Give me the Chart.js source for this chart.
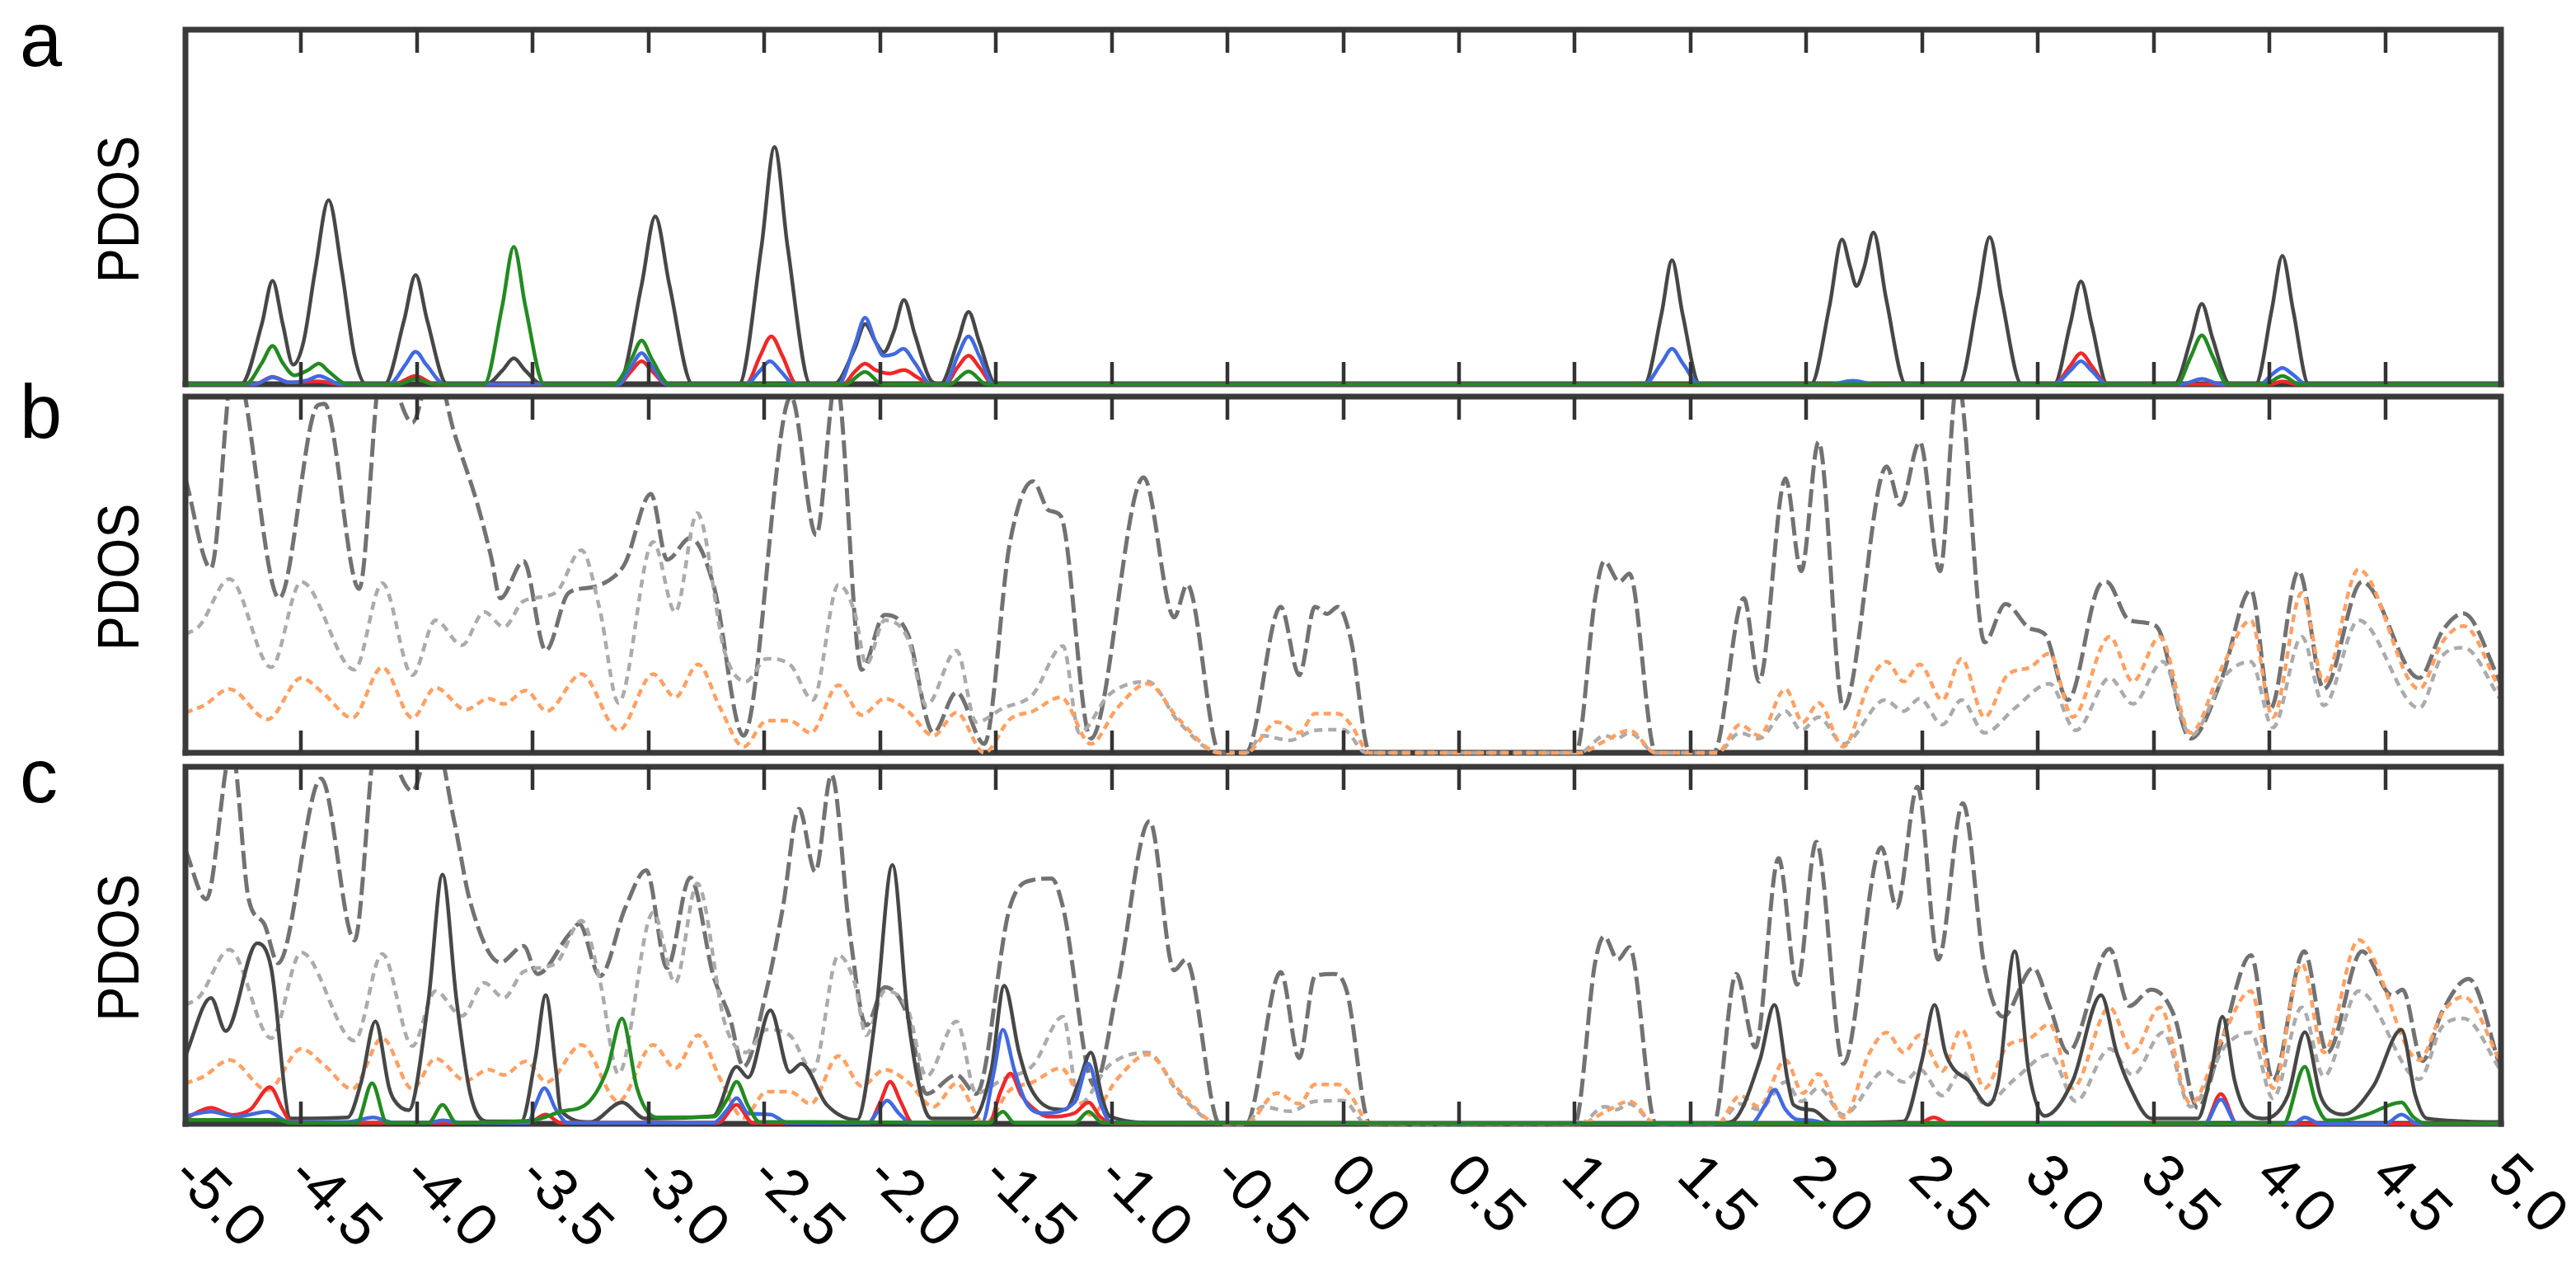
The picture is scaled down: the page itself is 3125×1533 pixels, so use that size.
<!DOCTYPE html>
<html><head><meta charset="utf-8">
<script src="https://cdn.jsdelivr.net/npm/chart.js@4.4.1/dist/chart.umd.min.js"></script>
<style>
html,body{margin:0;padding:0;background:#fff;}
body{width:3125px;height:1533px;position:relative;overflow:hidden;}
canvas{position:absolute;left:0;}
</style></head><body>
<canvas id="ca" width="3125" height="480" style="top:0px;width:3125px;height:480px"></canvas>
<canvas id="cb" width="3125" height="482" style="top:440px;width:3125px;height:482px"></canvas>
<canvas id="cc" width="3125" height="633" style="top:900px;width:3125px;height:633px"></canvas>
<script>
// ---------- tick values / labels ----------
const xTickValues = [-5.0,-4.5,-4.0,-3.5,-3.0,-2.5,-2.0,-1.5,-1.0,-0.5,0.0,0.5,1.0,1.5,2.0,2.5,3.0,3.5,4.0,4.5,5.0];
const xTickLabels = ['-5.0','-4.5','-4.0','-3.5','-3.0','-2.5','-2.0','-1.5','-1.0','-0.5','0.0','0.5','1.0','1.5','2.0','2.5','3.0','3.5','4.0','4.5','5.0'];
const panelLetters = ['a','b','c'];
const yTitle = 'PDOS';

// ---------- panel a : [energy, PDOS] ----------
const a_black = [[-5.0,0],[-4.76,0],[-4.67,0.17],[-4.624,0.292],[-4.58,0.17],[-4.535,0.055],[-4.49,0.12],[-4.44,0.32],[-4.382,0.519],[-4.325,0.32],[-4.27,0.08],[-4.22,0],[-4.14,0],[-4.056,0.18],[-4.006,0.308],[-3.956,0.18],[-3.87,0],[-3.70,0],[-3.63,0.04],[-3.582,0.073],[-3.534,0.04],[-3.46,0],[-3.13,0],[-3.03,0.28],[-2.971,0.473],[-2.91,0.28],[-2.81,0],[-2.61,0],[-2.512,0.39],[-2.456,0.669],[-2.40,0.39],[-2.30,0],[-2.20,0],[-2.11,0.1],[-2.065,0.17],[-2.02,0.12],[-1.985,0.09],[-1.94,0.15],[-1.897,0.238],[-1.85,0.14],[-1.78,0.01],[-1.74,0],[-1.665,0.12],[-1.618,0.204],[-1.572,0.12],[-1.50,0],[1.30,0],[1.375,0.2],[1.42,0.35],[1.465,0.2],[1.54,0],[2.02,0],[2.10,0.22],[2.154,0.408],[2.19,0.33],[2.216,0.277],[2.25,0.33],[2.29,0.428],[2.345,0.24],[2.43,0],[2.66,0],[2.74,0.24],[2.792,0.415],[2.844,0.24],[2.93,0],[3.07,0],[3.14,0.17],[3.186,0.29],[3.232,0.17],[3.30,0],[3.59,0],[3.662,0.13],[3.708,0.227],[3.754,0.13],[3.83,0],[3.94,0],[4.01,0.21],[4.056,0.362],[4.102,0.21],[4.17,0],[5.0,0]];
const a_green = [[-5.0,0],[-4.74,0],[-4.67,0.06],[-4.624,0.108],[-4.58,0.06],[-4.53,0.025],[-4.47,0.04],[-4.424,0.058],[-4.38,0.035],[-4.30,0],[-4.08,0],[-4.006,0.015],[-3.93,0],[-3.71,0],[-3.632,0.22],[-3.582,0.388],[-3.532,0.22],[-3.45,0],[-3.15,0],[-3.075,0.07],[-3.03,0.123],[-2.985,0.07],[-2.91,0],[-2.15,0],[-2.065,0.035],[-1.99,0],[-1.70,0],[-1.618,0.036],[-1.54,0],[3.60,0],[3.662,0.08],[3.708,0.138],[3.754,0.08],[3.82,0],[3.98,0],[4.056,0.023],[4.13,0],[5.0,0]];
const a_blue = [[-5.0,0],[-4.70,0],[-4.624,0.019],[-4.55,0.005],[-4.47,0.012],[-4.424,0.023],[-4.33,0],[-4.12,0],[-4.05,0.055],[-4.006,0.092],[-3.96,0.055],[-3.88,0],[-3.13,0],[-3.075,0.05],[-3.03,0.088],[-2.985,0.05],[-2.92,0],[-2.58,0],[-2.52,0.037],[-2.476,0.065],[-2.43,0.037],[-2.37,0],[-2.18,0],[-2.11,0.11],[-2.065,0.188],[-2.02,0.12],[-1.985,0.08],[-1.94,0.085],[-1.90,0.1],[-1.85,0.06],[-1.78,0],[-1.72,0],[-1.665,0.08],[-1.618,0.135],[-1.572,0.08],[-1.51,0],[1.30,0],[1.375,0.06],[1.42,0.1],[1.465,0.06],[1.54,0],[2.10,0],[2.20,0.01],[2.30,0],[3.07,0],[3.14,0.038],[3.186,0.065],[3.232,0.038],[3.30,0],[3.62,0],[3.708,0.015],[3.79,0],[3.96,0],[4.01,0.027],[4.056,0.046],[4.102,0.027],[4.16,0],[5.0,0]];
const a_red = [[-5.0,0],[-4.70,0],[-4.624,0.021],[-4.55,0.005],[-4.424,0.008],[-4.33,0],[-4.10,0],[-4.006,0.023],[-3.92,0],[-3.13,0],[-3.075,0.037],[-3.03,0.065],[-2.985,0.037],[-2.92,0],[-2.58,0],[-2.518,0.08],[-2.47,0.135],[-2.422,0.08],[-2.36,0],[-2.16,0],[-2.11,0.035],[-2.065,0.058],[-2.02,0.04],[-1.96,0.03],[-1.897,0.04],[-1.84,0.02],[-1.78,0],[-1.72,0],[-1.665,0.048],[-1.618,0.081],[-1.572,0.048],[-1.51,0],[3.07,0],[3.14,0.052],[3.186,0.088],[3.232,0.052],[3.30,0],[4.00,0],[4.056,0.008],[4.12,0],[5.0,0]];

// ---------- panel b ----------
const b_dashed = [[-5.0,0.77],[-4.89,0.518],[-4.79,1.1],[-4.595,0.434],[-4.43,0.975],[-4.40,0.98],[-4.25,0.46],[-4.15,1.1],[-4.02,0.927],[-3.93,1.1],[-3.84,0.9],[-3.74,0.70],[-3.68,0.55],[-3.64,0.434],[-3.54,0.538],[-3.444,0.287],[-3.345,0.449],[-3.25,0.464],[-3.148,0.495],[-3.10,0.534],[-2.99,0.727],[-2.92,0.542],[-2.82,0.603],[-2.72,0.472],[-2.59,0.048],[-2.385,1.0],[-2.276,0.611],[-2.19,1.05],[-2.08,0.233],[-1.98,0.387],[-1.88,0.333],[-1.77,0.056],[-1.67,0.17],[-1.55,0.025],[-1.44,0.588],[-1.34,0.762],[-1.27,0.68],[-1.22,0.665],[-1.09,0.04],[-0.862,0.773],[-0.73,0.38],[-0.674,0.472],[-0.533,0],[-0.42,0],[-0.27,0.41],[-0.19,0.218],[-0.122,0.41],[-0.07,0.39],[-0.023,0.41],[0.033,0.318],[0.115,0],[1.005,0],[1.088,0.434],[1.127,0.538],[1.193,0.48],[1.236,0.503],[1.35,0],[1.60,0],[1.73,0.434],[1.796,0.2],[1.91,0.77],[1.978,0.51],[2.053,0.873],[2.16,0.125],[2.347,0.804],[2.406,0.696],[2.49,0.873],[2.577,0.51],[2.653,1.05],[2.77,0.31],[2.86,0.418],[2.966,0.349],[3.03,0.333],[3.13,0.148],[3.26,0.464],[3.296,0.48],[3.395,0.372],[3.51,0.356],[3.66,0.04],[3.79,0.2],[3.92,0.457],[4.005,0.125],[4.126,0.51],[4.235,0.179],[4.40,0.48],[4.647,0.21],[4.746,0.341],[4.838,0.391],[5.0,0.194]];
const b_dotted = [[-5.0,0.333],[-4.94,0.356],[-4.81,0.488],[-4.63,0.24],[-4.50,0.48],[-4.27,0.233],[-4.15,0.476],[-4.02,0.218],[-3.92,0.372],[-3.806,0.302],[-3.71,0.395],[-3.625,0.353],[-3.54,0.426],[-3.40,0.45],[-3.29,0.569],[-3.21,0.4],[-3.13,0.14],[-2.98,0.592],[-2.885,0.395],[-2.79,0.673],[-2.67,0.28],[-2.58,0.2],[-2.49,0.264],[-2.39,0.248],[-2.29,0.148],[-2.18,0.472],[-2.11,0.395],[-2.06,0.248],[-1.98,0.372],[-1.88,0.32],[-1.80,0.133],[-1.67,0.287],[-1.585,0.086],[-1.47,0.125],[-1.34,0.164],[-1.21,0.3],[-1.14,0.056],[-1.01,0.164],[-0.845,0.2],[-0.71,0.086],[-0.533,0],[-0.42,0],[-0.35,0.048],[-0.23,0.035],[-0.122,0.063],[0.0,0.065],[0.10,0],[1.02,0],[1.13,0.048],[1.18,0.04],[1.236,0.056],[1.35,0],[1.615,0],[1.714,0.056],[1.796,0.04],[1.91,0.117],[1.978,0.063],[2.053,0.1],[2.16,0.025],[2.34,0.148],[2.42,0.117],[2.49,0.152],[2.587,0.079],[2.67,0.148],[2.77,0.056],[2.90,0.125],[3.05,0.194],[3.164,0.063],[3.31,0.21],[3.41,0.137],[3.54,0.256],[3.66,0.048],[3.81,0.218],[3.92,0.256],[4.015,0.071],[4.14,0.326],[4.235,0.133],[4.385,0.372],[4.647,0.125],[4.746,0.272],[4.84,0.295],[5.0,0.148]];
const b_orange = [[-5.0,0.113],[-4.92,0.133],[-4.81,0.179],[-4.645,0.094],[-4.50,0.21],[-4.40,0.164],[-4.28,0.098],[-4.15,0.24],[-4.02,0.098],[-3.92,0.183],[-3.79,0.121],[-3.69,0.152],[-3.625,0.137],[-3.53,0.175],[-3.44,0.117],[-3.29,0.221],[-3.13,0.063],[-2.98,0.221],[-2.885,0.156],[-2.786,0.248],[-2.69,0.125],[-2.59,0.017],[-2.49,0.09],[-2.39,0.09],[-2.30,0.056],[-2.18,0.19],[-2.08,0.106],[-1.98,0.152],[-1.88,0.117],[-1.77,0.048],[-1.67,0.113],[-1.55,0.0],[-1.44,0.094],[-1.34,0.117],[-1.22,0.156],[-1.09,0.025],[-0.977,0.125],[-0.845,0.194],[-0.71,0.094],[-0.533,0],[-0.42,0],[-0.286,0.086],[-0.19,0.056],[-0.122,0.11],[-0.023,0.11],[0.033,0.079],[0.115,0],[1.02,0],[1.127,0.032],[1.236,0.063],[1.35,0],[1.615,0],[1.714,0.079],[1.796,0.048],[1.91,0.179],[1.985,0.086],[2.053,0.14],[2.16,0.017],[2.274,0.2],[2.347,0.256],[2.42,0.2],[2.49,0.248],[2.587,0.148],[2.67,0.264],[2.77,0.1],[2.868,0.218],[2.966,0.24],[3.05,0.279],[3.15,0.1],[3.31,0.326],[3.41,0.2],[3.527,0.326],[3.66,0.056],[3.79,0.233],[3.92,0.372],[4.015,0.1],[4.14,0.449],[4.235,0.2],[4.385,0.515],[4.647,0.179],[4.746,0.31],[4.838,0.356],[5.0,0.171]];

// ---------- panel c ----------
const c_dashed = [[-5.0,0.767],[-4.91,0.629],[-4.80,1.05],[-4.727,0.629],[-4.66,0.56],[-4.60,0.45],[-4.414,0.967],[-4.27,0.514],[-4.17,1.1],[-4.02,0.932],[-3.93,1.1],[-3.84,0.85],[-3.77,0.621],[-3.64,0.452],[-3.54,0.498],[-3.48,0.42],[-3.345,0.529],[-3.30,0.56],[-3.21,0.414],[-3.10,0.606],[-3.01,0.71],[-2.92,0.437],[-2.82,0.69],[-2.72,0.414],[-2.65,0.3],[-2.59,0.16],[-2.49,0.376],[-2.42,0.606],[-2.35,0.882],[-2.28,0.706],[-2.21,0.978],[-2.13,0.53],[-2.06,0.276],[-1.98,0.383],[-1.88,0.3],[-1.80,0.084],[-1.67,0.137],[-1.585,0.084],[-1.44,0.606],[-1.34,0.683],[-1.26,0.687],[-1.21,0.606],[-1.075,0.107],[-0.977,0.376],[-0.836,0.848],[-0.73,0.43],[-0.68,0.46],[-0.533,0],[-0.42,0],[-0.27,0.425],[-0.19,0.184],[-0.122,0.414],[-0.04,0.42],[0.016,0.37],[0.115,0],[1.0,0],[1.088,0.452],[1.127,0.525],[1.186,0.46],[1.236,0.495],[1.35,0],[1.60,0],[1.697,0.42],[1.78,0.214],[1.88,0.744],[1.96,0.39],[2.043,0.79],[2.16,0.168],[2.324,0.775],[2.39,0.606],[2.48,0.944],[2.57,0.46],[2.676,0.898],[2.77,0.437],[2.85,0.3],[2.98,0.437],[3.05,0.33],[3.13,0.2],[3.31,0.49],[3.395,0.33],[3.49,0.376],[3.59,0.3],[3.69,0.045],[3.79,0.222],[3.92,0.472],[4.015,0.122],[4.15,0.483],[4.25,0.2],[4.40,0.483],[4.53,0.36],[4.575,0.376],[4.66,0.176],[4.746,0.314],[4.86,0.406],[5.0,0.153]];
const c_dotted = b_dotted;
const c_orange = b_orange;
const c_black = [[-5.0,0.191],[-4.89,0.353],[-4.826,0.26],[-4.69,0.506],[-4.63,0.437],[-4.546,0.015],[-4.30,0.018],[-4.24,0.12],[-4.18,0.287],[-4.12,0.1],[-4.10,0.068],[-4.036,0.038],[-3.95,0.35],[-3.89,0.698],[-3.83,0.35],[-3.77,0.084],[-3.70,0.007],[-3.55,0.007],[-3.49,0.18],[-3.444,0.36],[-3.40,0.15],[-3.38,0.038],[-3.25,0.005],[-3.115,0.06],[-3.016,0.015],[-2.72,0.022],[-2.62,0.16],[-2.57,0.13],[-2.474,0.318],[-2.39,0.145],[-2.34,0.168],[-2.23,0.053],[-2.10,0.011],[-2.02,0.3],[-1.947,0.725],[-1.88,0.3],[-1.80,0.03],[-1.77,0.015],[-1.60,0.015],[-1.52,0.15],[-1.464,0.387],[-1.40,0.2],[-1.355,0.107],[-1.27,0.045],[-1.20,0.04],[-1.14,0.12],[-1.09,0.2],[-1.04,0.07],[-1.01,0.022],[-0.81,0.003],[1.60,0],[1.68,0.007],[1.80,0.18],[1.862,0.333],[1.92,0.12],[1.945,0.053],[2.03,0.038],[2.11,0.003],[2.42,0.007],[2.50,0.18],[2.554,0.333],[2.60,0.2],[2.637,0.153],[2.70,0.122],[2.785,0.053],[2.83,0.12],[2.90,0.483],[2.96,0.15],[3.03,0.022],[3.15,0.12],[3.273,0.36],[3.34,0.2],[3.395,0.107],[3.49,0.015],[3.69,0.015],[3.75,0.15],[3.797,0.3],[3.85,0.12],[3.89,0.045],[3.98,0.015],[4.08,0.08],[4.153,0.257],[4.22,0.08],[4.25,0.045],[4.32,0.026],[4.45,0.107],[4.57,0.264],[4.63,0.08],[4.68,0.015],[5.0,0.005]];
const c_red = [[-5.0,0.015],[-4.89,0.045],[-4.80,0.025],[-4.72,0.04],[-4.635,0.103],[-4.58,0.04],[-4.546,0.007],[-4.30,0.003],[-3.52,0.003],[-3.444,0.026],[-3.38,0.003],[-2.70,0.003],[-2.62,0.053],[-2.55,0.003],[-2.05,0.003],[-2.00,0.06],[-1.957,0.118],[-1.91,0.06],[-1.86,0.003],[-1.53,0.003],[-1.48,0.09],[-1.437,0.141],[-1.39,0.08],[-1.35,0.05],[-1.27,0.02],[-1.16,0.03],[-1.10,0.06],[-1.05,0.02],[-1.0,0.002],[2.48,0],[2.55,0.018],[2.62,0],[3.72,0],[3.79,0.084],[3.86,0],[5.0,0]];
const c_blue = [[-5.0,0.022],[-4.89,0.034],[-4.78,0.02],[-4.645,0.034],[-4.55,0.005],[-4.30,0.005],[-4.19,0.018],[-4.10,0.003],[-3.95,0.003],[-3.89,0.01],[-3.80,0.003],[-3.52,0.003],[-3.49,0.05],[-3.45,0.1],[-3.40,0.04],[-3.35,0.003],[-2.72,0.003],[-2.66,0.04],[-2.62,0.072],[-2.57,0.03],[-2.474,0.026],[-2.40,0.003],[-2.05,0.003],[-2.01,0.035],[-1.97,0.065],[-1.92,0.03],[-1.87,0.003],[-1.56,0.003],[-1.51,0.14],[-1.47,0.264],[-1.42,0.15],[-1.37,0.06],[-1.30,0.03],[-1.16,0.06],[-1.10,0.168],[-1.05,0.06],[-1.0,0.003],[1.76,0],[1.82,0.05],[1.862,0.095],[1.91,0.04],[1.96,0.012],[2.02,0.01],[2.10,0],[3.72,0],[3.79,0.068],[3.86,0],[4.10,0],[4.153,0.018],[4.22,0],[4.50,0],[4.57,0.026],[4.64,0],[5.0,0]];
const c_green = [[-5.0,0.011],[-4.60,0.011],[-4.55,0.003],[-4.26,0.003],[-4.194,0.114],[-4.13,0.003],[-3.95,0.003],[-3.89,0.053],[-3.83,0.003],[-3.50,0.01],[-3.38,0.034],[-3.26,0.06],[-3.18,0.15],[-3.115,0.295],[-3.05,0.1],[-3.0,0.03],[-2.95,0.018],[-2.72,0.02],[-2.66,0.07],[-2.62,0.118],[-2.57,0.05],[-2.52,0.005],[-2.30,0.005],[-1.53,0.003],[-1.47,0.034],[-1.42,0.003],[-1.16,0.003],[-1.10,0.034],[-1.04,0.003],[4.06,0],[4.153,0.16],[4.20,0.06],[4.25,0.01],[4.32,0.01],[4.42,0.026],[4.57,0.06],[4.62,0.02],[4.68,0],[5.0,0]];

// ---------- styles ----------
const COL = {black:'#474747', green:'#228b22', blue:'#4169e1', red:'#f02828', dash:'#727272', dot:'#ababab', orange:'#ffa062'};
const FONT = '"Liberation Sans", Arial, sans-serif';

function ds(arr, color, width, dash) {
  return {
    data: arr.map(p => ({x: p[0], y: p[1]})),
    borderColor: color, borderWidth: width, borderDash: dash || [],
    borderCapStyle: 'butt', borderJoinStyle: 'round',
    pointRadius: 0, fill: false, cubicInterpolationMode: 'monotone',
    clip: {left: 0, top: 0, right: 0, bottom: 6}
  };
}

function framePlugin(letter, letterDy, showLabels) {
  return {
    id: 'frame' + letter,
    beforeDatasetsDraw(chart) {
      const {ctx, chartArea: a} = chart;
      ctx.save();
      ctx.strokeStyle = '#3a3a3a'; ctx.lineWidth = 7;
      ctx.beginPath(); ctx.moveTo(a.left - 3.5, a.bottom); ctx.lineTo(a.right + 3.5, a.bottom); ctx.stroke();
      ctx.restore();
    },
    afterDatasetsDraw(chart) {
      const {ctx, chartArea: a, scales} = chart;
      const xs = scales.x;
      ctx.save();
      ctx.strokeStyle = '#3a3a3a'; ctx.lineWidth = 7; ctx.lineCap = 'square'; ctx.lineJoin = 'miter';
      ctx.beginPath();
      ctx.moveTo(a.left, a.bottom); ctx.lineTo(a.left, a.top); ctx.lineTo(a.right, a.top); ctx.lineTo(a.right, a.bottom);
      ctx.stroke();
      ctx.lineWidth = 4.5; ctx.strokeStyle = '#333'; ctx.lineCap = 'butt';
      ctx.beginPath();
      xTickValues.forEach(t => {
        if (t <= -5 || t >= 5) return;
        const px = Math.round(xs.getPixelForValue(t));
        ctx.moveTo(px, a.top); ctx.lineTo(px, a.top + 28);
        ctx.moveTo(px, a.bottom); ctx.lineTo(px, a.bottom - 27);
      });
      ctx.stroke();
      ctx.fillStyle = '#000';
      ctx.font = '92px ' + FONT; ctx.textAlign = 'left'; ctx.textBaseline = 'alphabetic';
      ctx.fillText(letter, 24, a.top + letterDy);
      ctx.save();
      ctx.translate(149, (a.top + a.bottom) / 2 + 3);
      ctx.rotate(-Math.PI / 2); ctx.scale(0.9, 1);
      ctx.font = '70px ' + FONT; ctx.textAlign = 'center'; ctx.textBaseline = 'middle';
      ctx.fillText(yTitle, 0, 0);
      ctx.restore();
      if (showLabels) {
        ctx.font = '72px ' + FONT; ctx.textAlign = 'left'; ctx.textBaseline = 'middle';
        xTickValues.forEach((t, i) => {
          const px = xs.getPixelForValue(t);
          ctx.save();
          ctx.translate(px - 5, a.bottom + 52);
          ctx.rotate(Math.PI / 4);
          ctx.fillText(xTickLabels[i], 0, 0);
          ctx.restore();
        });
      }
      ctx.restore();
    }
  };
}

function makeChart(id, datasets, pad, letter, letterDy, showLabels) {
  return new Chart(document.getElementById(id), {
    type: 'line',
    data: {datasets},
    options: {
      responsive: false, animation: false, devicePixelRatio: 1,
      layout: {padding: pad},
      scales: {
        x: {type: 'linear', min: -5, max: 5, display: false},
        y: {type: 'linear', min: 0, max: 1, display: false}
      },
      plugins: {legend: {display: false}, tooltip: {enabled: false}}
    },
    plugins: [framePlugin(letter, letterDy, showLabels)]
  });
}

// first dataset is drawn on top
makeChart('ca', [
  ds(a_green, COL.green, 4.5), ds(a_blue, COL.blue, 4.5), ds(a_red, COL.red, 4.5), ds(a_black, COL.black, 4.5)
], {left: 225, right: 91, top: 36, bottom: 14}, panelLetters[0], 44, false);

makeChart('cb', [
  ds(b_orange, COL.orange, 4.5, [9, 6]), ds(b_dotted, COL.dot, 4.5, [10, 7]), ds(b_dashed, COL.dash, 5, [22, 7])
], {left: 225, right: 91, top: 41, bottom: 9}, panelLetters[1], 50, false);

makeChart('cc', [
  ds(c_green, COL.green, 4.5), ds(c_blue, COL.blue, 4.5), ds(c_red, COL.red, 4.5), ds(c_black, COL.black, 4.5),
  ds(c_orange, COL.orange, 4.5, [9, 6]), ds(c_dotted, COL.dot, 4.5, [10, 7]), ds(c_dashed, COL.dash, 5, [22, 7])
], {left: 225, right: 91, top: 30, bottom: 170}, panelLetters[2], 43, true);
</script>
</body></html>
